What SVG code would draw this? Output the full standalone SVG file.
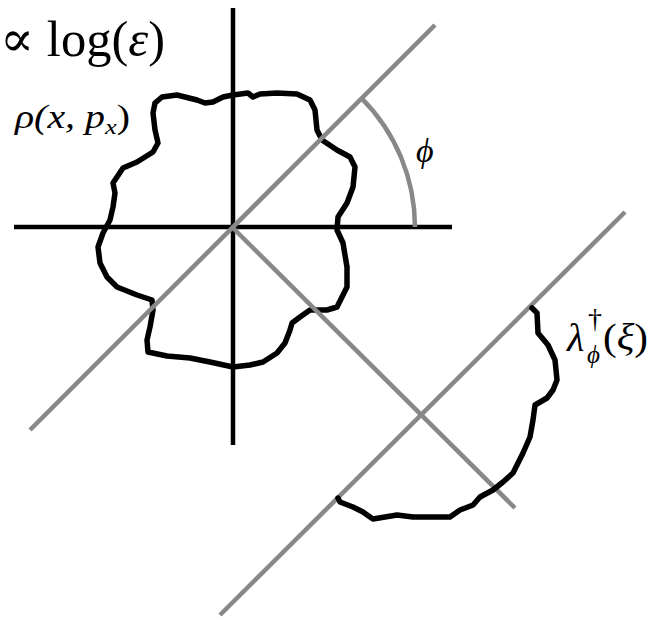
<svg xmlns="http://www.w3.org/2000/svg" width="648" height="619" viewBox="0 0 648 619">
<style>
.axis{stroke:#000;stroke-width:4.5;fill:none}
.gray{stroke:#888;stroke-width:4.5;fill:none}
.blob{stroke:#000;stroke-width:5.5;fill:none;stroke-linejoin:round;stroke-linecap:round}
.math{font-family:"Liberation Serif","DejaVu Serif",serif;font-style:italic;fill:#000}
.big{font-family:"Liberation Serif","DejaVu Serif",serif;fill:#000}
</style>
<rect width="648" height="619" fill="#fff"/>
<g id="axes">
<line class="axis" x1="233" y1="8" x2="233" y2="445"/>
<line class="axis" x1="14" y1="227" x2="452" y2="227"/>
</g>
<g id="blob-main">
<polyline class="blob" points="155,103 162,97 177,95 197,100 205,103 213,102 223,97 233,95 248,93 253,97 260,94 277,93 297,94 310,100 315,110 317,130 322,140 337,150 350,157 355,167 353,187 347,203 338,217 337,230 343,243 347,267 347,287 337,307 327,310 310,310 300,317 292,323 290,330 285,343 277,353 263,362 250,365 233,367 210,362 190,358 167,356 148,352 147,340 150,327 153,310 152,300 137,295 117,287 107,277 100,263 98,247 103,233 110,220 113,207 115,193 113,183 117,177 123,168 137,162 153,152 158,143 155,130 153,113 155,103"/>
</g>
<g id="lines">
<line class="gray" x1="30" y1="430" x2="435" y2="25"/>
<line class="gray" x1="232" y1="227" x2="515" y2="508"/>
<line class="gray" x1="220" y1="615" x2="625" y2="212"/>
<path class="gray" d="M 361.7 98.3 A 183 183 0 0 1 415 227"/>
</g>
<g id="blob-projection">
<polyline class="blob" points="532,308 537,313 538,333 548,345 555,360 557,380 553,390 547,398 535,405 533,420 530,437 523,453 513,473 503,482 493,490 480,497 473,505 460,510 450,517 430,517 413,517 397,515 385,517 373,519 370,517 363,512 353,507 340,502 338,498"/>
</g>
<g id="labels">
<text class="big" x="0" y="56" font-size="50" textLength="165" lengthAdjust="spacingAndGlyphs">∝ log(<tspan font-style="italic">ε</tspan>)</text>
<text class="math" x="15" y="128" font-size="33" textLength="115" lengthAdjust="spacingAndGlyphs">ρ(x, p<tspan font-size="22" dy="6">x</tspan><tspan dy="-6" font-style="normal">)</tspan></text>
<text class="math" x="416" y="162" font-size="34">ϕ</text>
<text class="math" x="567" y="351" font-size="40">λ</text>
<text class="big" x="588" y="328" font-size="28">†</text>
<text class="math" x="587" y="363" font-size="25">ϕ</text>
<text class="big" x="603" y="350" font-size="38" textLength="45" lengthAdjust="spacingAndGlyphs">(<tspan font-style="italic">ξ</tspan>)</text>
</g>
</svg>
